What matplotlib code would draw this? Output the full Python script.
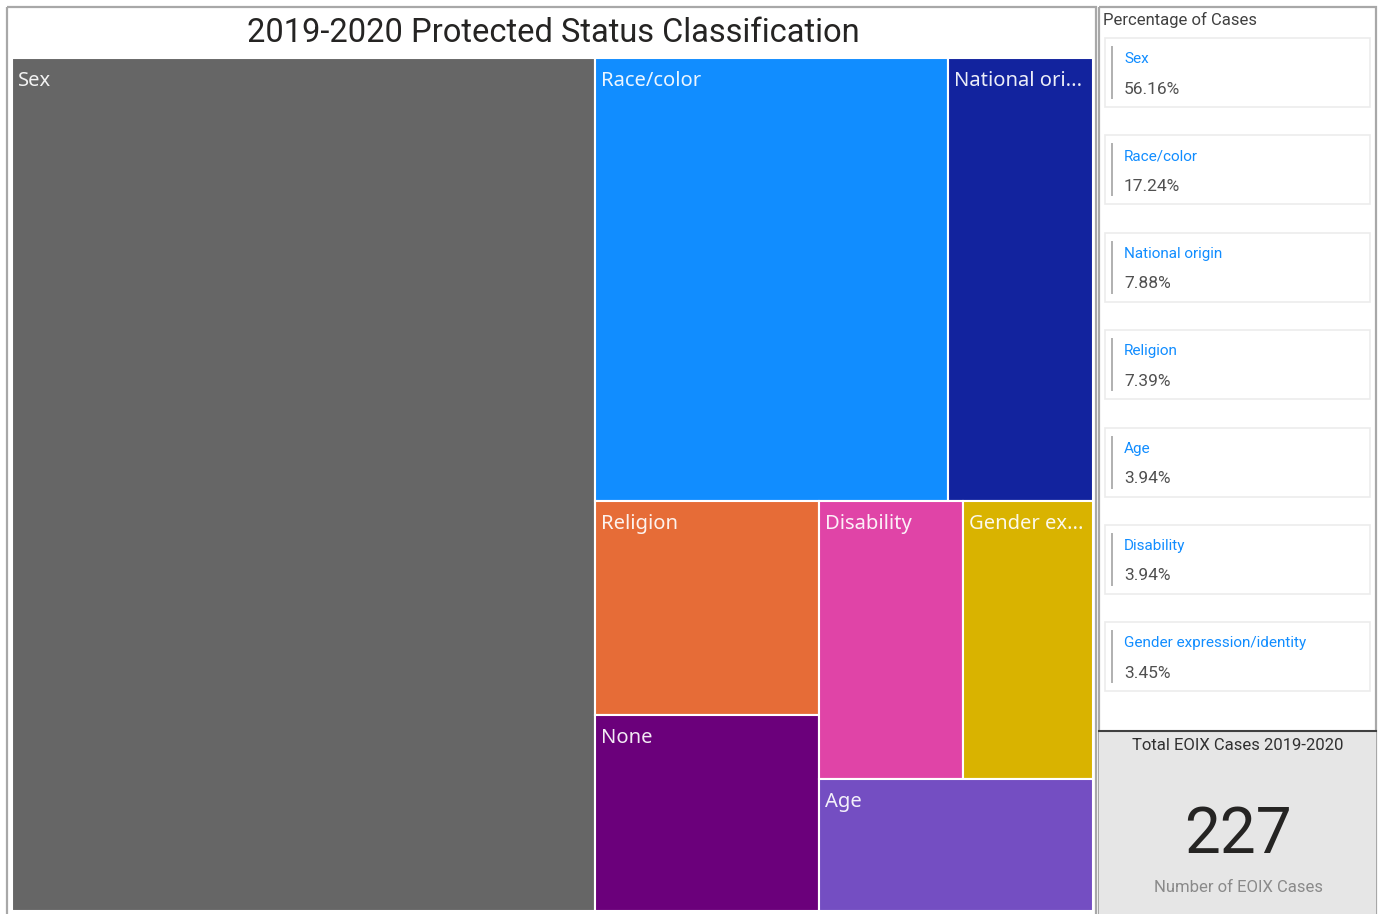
import matplotlib
matplotlib.use("Agg")
import matplotlib.pyplot as plt
from matplotlib.patches import Rectangle

categories = ["Sex", "Race/color", "National origin", "Religion", "None",
              "Disability", "Gender expression/identity", "Age"]
counts = [124, 39, 16, 12, 11, 10, 9, 9]
colors = ["#666666", "#118DFF", "#12239E", "#E66C37", "#6B007B",
          "#E044A7", "#D9B300", "#744EC2"]

# side cards
card_labels = ["Sex", "Race/color", "National origin", "Religion", "Age",
               "Disability", "Gender expression/identity"]
card_pct = [56.16, 17.24, 7.88, 7.39, 3.94, 3.94, 3.45]
total_cases = 227

FIG_W, FIG_H = 1378, 914
DPI = 100
DIN = "Roboto"
SEG = "Noto Sans"


def squarify(values, x0, y0, x1, y1, ratio=1.5):
    # squarified layout, same idea as d3 treemapSquarify with a target ratio
    rects = []
    value = float(sum(values))
    n = len(values)
    i0 = 0
    while i0 < n:
        dx, dy = x1 - x0, y1 - y0
        i1 = i0
        s = values[i1]
        i1 += 1
        mn = mx = s
        alpha = max(dy / dx, dx / dy) / (value * ratio)
        beta = s * s * alpha
        minr = max(mx / beta, beta / mn)
        while i1 < n:
            nv = values[i1]
            s2 = s + nv
            mn2, mx2 = min(mn, nv), max(mx, nv)
            beta = s2 * s2 * alpha
            nr = max(mx2 / beta, beta / mn2)
            if nr > minr:
                break
            s, mn, mx, minr = s2, mn2, mx2, nr
            i1 += 1
        if dx < dy:
            yb = y0 + dy * s / value
            xx = x0
            for j in range(i0, i1):
                w = dx * values[j] / s
                rects.append((xx, y0, w, yb - y0))
                xx += w
            y0 = yb
        else:
            xb = x0 + dx * s / value
            yy = y0
            for j in range(i0, i1):
                h = dy * values[j] / s
                rects.append((x0, yy, xb - x0, h))
                yy += h
            x0 = xb
        value -= s
        i0 = i1
    return rects


fig = plt.figure(figsize=(FIG_W / DPI, FIG_H / DPI), dpi=DPI)
fig.patch.set_facecolor("white")

# background axes in pixel units for frames / cards
bg = fig.add_axes([0, 0, 1, 1])
bg.set_xlim(0, FIG_W)
bg.set_ylim(FIG_H, 0)
bg.axis("off")

# panel frames
bg.add_patch(Rectangle((7, 7), 1089, 912, fill=False, ec="#a8a8a8", lw=1.6))
bg.add_patch(Rectangle((1099, 7), 277, 912, fill=False, ec="#a8a8a8", lw=1.6))

bg.text(553, 33, "2019-2020 Protected Status Classification", fontfamily=DIN,
        fontsize=23.5, color="#252423", ha="center", va="center")

# treemap axes: one unit = one pixel
TX0, TY0, TW, TH = 12, 58, 1081, 853
tm = fig.add_axes([TX0 / FIG_W, 1 - (TY0 + TH) / FIG_H, TW / FIG_W, TH / FIG_H])
tm.set_xlim(0, TW)
tm.set_ylim(TH, 0)
tm.axis("off")

rects = squarify(counts, 0, 0, TW, TH)
fig.canvas.draw()
renderer = fig.canvas.get_renderer()
for (x, y, w, h), name, c in zip(rects, categories, colors):
    tm.add_patch(Rectangle((x, y), w, h, fc=c, ec="white", lw=1.5))
    t = tm.text(x + 6, y + 13, name, fontfamily=SEG, fontsize=14.5,
                color="white", alpha=0.92, ha="left", va="top")
    avail = w - 12
    label = name
    while t.get_window_extent(renderer).width > avail and len(label) > 1:
        label = label[:-1]
        t.set_text(label.rstrip() + "...")

# percentage cards
bg.text(1103, 20, "Percentage of Cases", fontfamily=DIN, fontsize=12,
        color="#404040", ha="left", va="center")
for i, (lab, pct) in enumerate(zip(card_labels, card_pct)):
    top = 38 + i * 97.4
    bg.add_patch(Rectangle((1105, top), 265, 69, fc="white", ec="#ececec", lw=1.2))
    bg.plot([1112, 1112], [top + 9, top + 60], color="#b0b0b0", lw=1.4)
    bg.text(1124, top + 21, lab, fontfamily=DIN, fontsize=11, color="#118DFF",
            ha="left", va="center")
    bg.text(1124, top + 51, f"{pct:.2f}%", fontfamily=DIN, fontsize=12.5,
            color="#505050", ha="left", va="center")

# total card
bg.add_patch(Rectangle((1099, 731), 277, 190, fc="#e6e6e6", ec="none"))
bg.plot([1099, 1376], [731, 731], color="#404040", lw=1.5)
bg.text(1238, 745, "Total EOIX Cases 2019-2020", fontfamily=DIN, fontsize=12,
        color="#303030", ha="center", va="center")
bg.text(1238, 835, str(total_cases), fontfamily=DIN, fontsize=46,
        color="#252423", ha="center", va="center")
bg.text(1238, 887, "Number of EOIX Cases", fontfamily=DIN, fontsize=12,
        color="#8a8a8a", ha="center", va="center")

fig.savefig("out.png", dpi=DPI)
